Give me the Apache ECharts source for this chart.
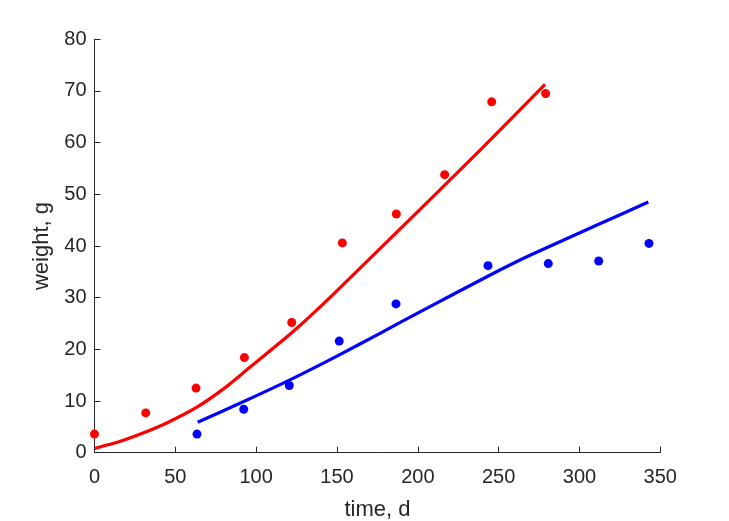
<!DOCTYPE html>
<html>
<head>
<meta charset="utf-8">
<script src="https://cdn.jsdelivr.net/npm/echarts@6/dist/echarts.min.js"></script>
<style>html,body{margin:0;padding:0;background:#fff}#c{width:729px;height:521px}</style>
</head>
<body>
<div id="c"></div>
<script>
// Observed data (time in days, weight in g)
const redPoints = [[0,3.6],[31.7,7.7],[62.8,12.5],[92.7,18.4],[122,25.2],[153.3,40.6],[186.7,46.2],[216.6,53.8],[245.7,67.9],[279.1,69.5]];
const bluePoints = [[63.4,3.6],[92.3,8.4],[120.5,13.0],[151.4,21.6],[186.5,28.8],[243.4,36.2],[280.7,36.6],[311.9,37.1],[343,40.5]];
// Fitted curves
const redFit = [[0,0.8],[15,2.1],[30,3.8],[45,5.8],[62.8,8.7],[80,12.4],[94.1,16.0],[122,23.2],[145.6,30.0],[186.7,42.6],[238.4,58.5],[278.7,71.3]];
const blueFit = [[63.8,5.9],[92.3,9.9],[120.9,14.1],[150,18.7],[176.6,23.1],[203.4,27.6],[243.6,34.2],[269.4,38.2],[311.9,44.2],[342.6,48.5]];
const xTicks = [0,50,100,150,200,250,300,350];
const yTicks = [0,10,20,30,40,50,60,70,80];

const chart = echarts.init(document.getElementById('c'));
const axisColor = '#262626';
const font = 'Liberation Sans, Arial, Helvetica, sans-serif';
chart.setOption({
  animation: false,
  grid: {left: 94.5, right: 68.7, top: 39.3, bottom: 68.3, containLabel: false, outerBoundsMode: 'none'},
  xAxis: {
    type: 'value', min: xTicks[0], max: xTicks[xTicks.length - 1], interval: 50,
    name: 'time, d', nameLocation: 'middle', nameGap: 46,
    nameTextStyle: {color: axisColor, fontSize: 22, fontFamily: font},
    axisLine: {show: true, lineStyle: {color: axisColor, width: 1}},
    axisTick: {show: true, inside: true, length: 6, lineStyle: {color: axisColor}},
    axisLabel: {color: axisColor, fontSize: 20, fontFamily: font, margin: 15, showMaxLabel: true, showMinLabel: true},
    splitLine: {show: false}
  },
  yAxis: {
    type: 'value', min: yTicks[0], max: yTicks[yTicks.length - 1], interval: 10,
    name: 'weight, g', nameLocation: 'middle', nameGap: 36,
    nameTextStyle: {color: axisColor, fontSize: 22, fontFamily: font},
    axisLine: {show: true, lineStyle: {color: axisColor, width: 1}},
    axisTick: {show: true, inside: true, length: 6, lineStyle: {color: axisColor}},
    axisLabel: {color: axisColor, fontSize: 20, fontFamily: font, margin: 8},
    splitLine: {show: false}
  },
  series: [
    {type: 'line', data: redFit, smooth: 0.2, showSymbol: false, symbol: 'none', clip: false,
     lineStyle: {color: '#ff0000', width: 3.2}},
    {type: 'line', data: blueFit, smooth: 0.2, showSymbol: false, symbol: 'none', clip: false,
     lineStyle: {color: '#0000ff', width: 3.2}},
    {type: 'scatter', data: redPoints, symbol: 'circle', symbolSize: 9, clip: false,
     itemStyle: {color: '#ff0000', opacity: 1}},
    {type: 'scatter', data: bluePoints, symbol: 'circle', symbolSize: 9, clip: false,
     itemStyle: {color: '#0000ff', opacity: 1}}
  ]
});
</script>
</body>
</html>
